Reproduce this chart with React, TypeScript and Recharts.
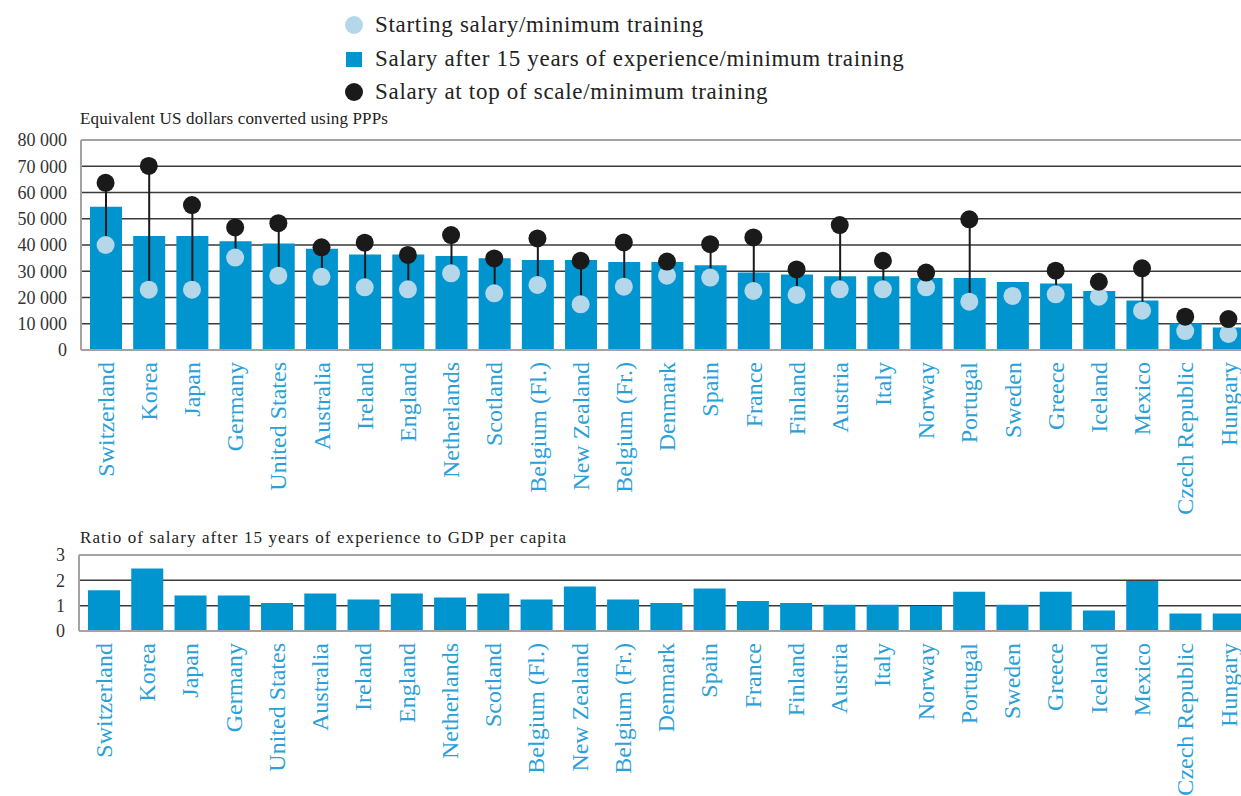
import React from "react";
import { ComposedChart, Bar, Line, XAxis, YAxis, CartesianGrid, ReferenceLine } from "recharts";

const countries = [
  "Switzerland", "Korea", "Japan", "Germany", "United States", "Australia", "Ireland", "England",
  "Netherlands", "Scotland", "Belgium (Fl.)", "New Zealand", "Belgium (Fr.)", "Denmark", "Spain",
  "France", "Finland", "Austria", "Italy", "Norway", "Portugal", "Sweden", "Greece", "Iceland",
  "Mexico", "Czech Republic", "Hungary",
];

// equivalent US dollars, PPPs
const startSalary = [
  40000, 23000, 23000, 35200, 28300, 27900, 23900, 23100, 29200, 21600, 24800, 17400, 24100, 28300,
  27600, 22500, 21000, 23100, 23100, 23900, 18400, 20600, 21200, 20300, 15000, 7200, 6100,
];
const salary15 = [
  54600, 43400, 43400, 41400, 40600, 38600, 36400, 36400, 35800, 35000, 34300, 34300, 33500, 33500,
  32300, 29500, 28800, 28100, 28100, 27400, 27400, 25900, 25300, 22500, 18900, 10200, 8600,
];
const topSalary: (number | null)[] = [
  63700, 70100, 55200, 46700, 48300, 39100, 40900, 36200, 43800, 34900, 42500, 34000, 41000, 33700,
  40300, 42900, 30700, 47600, 34000, 29500, 49800, null, 30200, 26000, 31100, 12700, 11800,
];
// ratio of salary after 15 years to GDP per capita
const ratio = [
  1.61, 2.47, 1.4, 1.4, 1.11, 1.48, 1.24, 1.48, 1.32, 1.48, 1.24, 1.76, 1.24, 1.11, 1.68, 1.18,
  1.11, 1.04, 1.04, 0.99, 1.55, 1.04, 1.55, 0.81, 1.97, 0.69, 0.69,
];

const salaryTicks = [0, 10000, 20000, 30000, 40000, 50000, 60000, 70000, 80000];
const ratioTicks = [0, 1, 2, 3];

const SERIF = '"Liberation Serif", "Times New Roman", serif';
const BLUE = "#0095cf";
const LIGHT = "#b4d7ea";
const DARK = "#1a1a1a";
const LABEL = "#2a9fd8";
const FRAME = "#a3a3a3";
const GRID = "#3a3a3a";

const salaryData = countries.map((name, i) => ({
  name,
  start: startSalary[i],
  mid: salary15[i],
  top: topSalary[i],
  stem: topSalary[i] == null ? null : [startSalary[i], topSalary[i]],
}));
const ratioData = countries.map((name, i) => ({ name, ratio: ratio[i] }));

const fmt = (v: number) => String(v).replace(/\B(?=(\d{3})+(?!\d))/g, " ");

function CountryTick({ x, y, payload }: any) {
  const y0 = y + 4;
  return (
    <text
      x={x}
      y={y0}
      transform={`rotate(-90, ${x}, ${y0})`}
      textAnchor="end"
      dy="0.34em"
      fill={LABEL}
      fontSize={24}
      fontFamily={SERIF}
    >
      {payload.value}
    </text>
  );
}

const yTick = { fill: "#333", fontSize: 18, fontFamily: SERIF };

function LegendRow({ top, marker, text }: { top: number; marker: React.ReactNode; text: string }) {
  return (
    <div style={{ position: "absolute", left: 345, top, height: 32, display: "flex", alignItems: "center" }}>
      <div style={{ width: 18, height: 18, display: "flex", alignItems: "center", justifyContent: "center" }}>
        {marker}
      </div>
      <span
        style={{
          marginLeft: 12,
          fontFamily: SERIF,
          fontSize: 23,
          letterSpacing: 0.7,
          lineHeight: "32px",
          color: "#222",
          whiteSpace: "nowrap",
        }}
      >
        {text}
      </span>
    </div>
  );
}

export default function App() {
  return (
    <div style={{ position: "absolute", left: 0, top: 0, width: 1241, height: 796, overflow: "hidden", background: "#fff" }}>
      <LegendRow
        top={9}
        marker={<div style={{ width: 18, height: 18, borderRadius: 9, background: LIGHT }} />}
        text="Starting salary/minimum training"
      />
      <LegendRow
        top={43}
        marker={<div style={{ width: 16, height: 15, background: BLUE }} />}
        text="Salary after 15 years of experience/minimum training"
      />
      <LegendRow
        top={76}
        marker={<div style={{ width: 18, height: 18, borderRadius: 9, background: DARK }} />}
        text="Salary at top of scale/minimum training"
      />

      <div style={{ position: "absolute", left: 80, top: 110, fontFamily: SERIF, fontSize: 17, letterSpacing: 0.15, lineHeight: "17px", color: "#222", whiteSpace: "nowrap" }}>
        Equivalent US dollars converted using PPPs
      </div>

      <div style={{ position: "absolute", left: 0, top: 130 }}>
        <ComposedChart width={1260} height={390} data={salaryData} margin={{ top: 10, right: 10, left: 0, bottom: 0 }}>
          <CartesianGrid horizontal vertical={false} stroke={GRID} strokeWidth={1.5} />
          <XAxis
            dataKey="name"
            interval={0}
            tickLine={false}
            height={170}
            padding={{ left: 3, right: 0 }}
            axisLine={{ stroke: FRAME, strokeWidth: 2 }}
            tick={<CountryTick />}
          />
          <XAxis xAxisId="stem" dataKey="name" hide padding={{ left: 3, right: 0 }} />
          <YAxis
            domain={[0, 80000]}
            ticks={salaryTicks}
            interval={0}
            width={81}
            tickLine={false}
            tickMargin={8}
            axisLine={{ stroke: FRAME, strokeWidth: 2 }}
            tick={yTick}
            tickFormatter={fmt}
          />
          <ReferenceLine y={80000} stroke={FRAME} strokeWidth={2} />
          <Bar dataKey="mid" fill={BLUE} barSize={32} isAnimationActive={false} />
          <Bar xAxisId="stem" dataKey="stem" fill={DARK} barSize={2} isAnimationActive={false} />
          <Line
            dataKey="start"
            stroke="none"
            dot={{ r: 9, fill: LIGHT, stroke: "none" }}
            activeDot={false}
            isAnimationActive={false}
          />
          <Line
            dataKey="top"
            stroke="none"
            dot={{ r: 9, fill: DARK, stroke: "none" }}
            activeDot={false}
            isAnimationActive={false}
          />
        </ComposedChart>
      </div>

      <div style={{ position: "absolute", left: 80, top: 529, fontFamily: SERIF, fontSize: 17, letterSpacing: 1.1, lineHeight: "17px", color: "#222", whiteSpace: "nowrap" }}>
        Ratio of salary after 15 years of experience to GDP per capita
      </div>

      <div style={{ position: "absolute", left: 0, top: 545 }}>
        <ComposedChart width={1260} height={251} data={ratioData} margin={{ top: 10, right: 10, left: 0, bottom: 0 }}>
          <CartesianGrid horizontal vertical={false} stroke={GRID} strokeWidth={1.5} />
          <XAxis
            dataKey="name"
            interval={0}
            tickLine={false}
            height={165}
            padding={{ left: 3, right: 0 }}
            axisLine={{ stroke: FRAME, strokeWidth: 2 }}
            tick={<CountryTick />}
          />
          <YAxis
            domain={[0, 3]}
            ticks={ratioTicks}
            interval={0}
            width={79}
            tickLine={false}
            tickMargin={8}
            axisLine={{ stroke: FRAME, strokeWidth: 2 }}
            tick={yTick}
          />
          <ReferenceLine y={3} stroke={FRAME} strokeWidth={2} />
          <Bar dataKey="ratio" fill={BLUE} barSize={32} isAnimationActive={false} />
        </ComposedChart>
      </div>
    </div>
  );
}
